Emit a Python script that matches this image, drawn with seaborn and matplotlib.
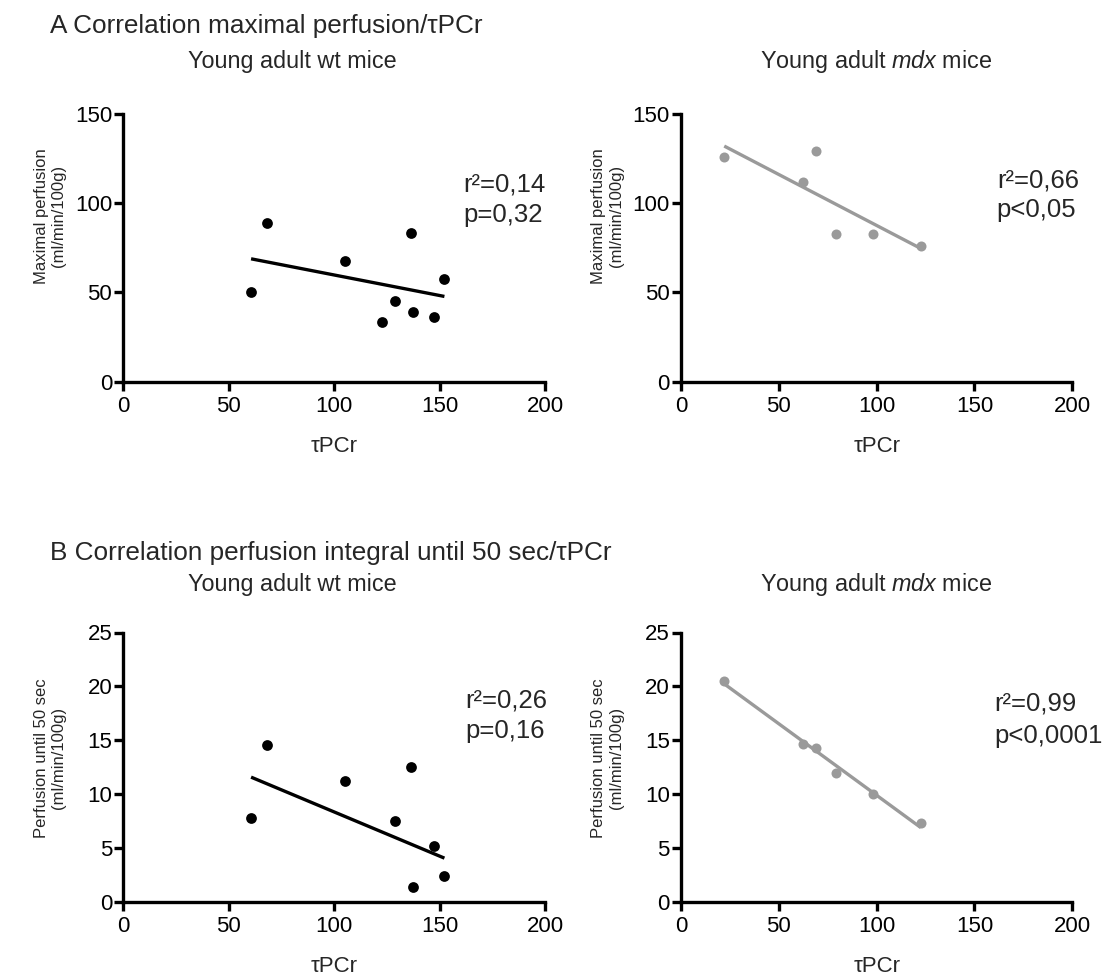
import matplotlib
matplotlib.use("Agg")
import matplotlib.pyplot as plt
import seaborn as sns

# tau PCr of each mouse (same animals in both rows)
wt_tau = [60.6, 68.0, 105.2, 136.5, 152.3, 128.9, 122.6, 137.6, 147.5]
wt_max_perf = [50.3, 88.8, 67.7, 83.5, 57.6, 45.2, 33.3, 39.1, 36.1]
# one wt mouse sits just under the axis (hidden in the figure, still in the fit)
wt_perf50 = [7.8, 14.6, 11.2, 12.55, 2.4, 7.5, -0.5, 1.4, 5.2]

mdx_tau = [22.1, 62.5, 68.9, 79.3, 98.3, 122.6]
mdx_max_perf = [126.0, 111.9, 129.5, 82.6, 82.6, 76.2]
mdx_perf50 = [20.5, 14.7, 14.3, 12.0, 10.0, 7.3]

r2_labels = ["r²=0,14", "r²=0,66", "r²=0,26", "r²=0,99"]
p_labels = ["p=0,32", "p<0,05", "p=0,16", "p<0,0001"]

x_ticks = [0, 50, 100, 150, 200]
y_ticks_top = [0, 50, 100, 150]
y_ticks_bottom = [0, 5, 10, 15, 20, 25]

sns.set_style("ticks")
plt.rcParams["font.family"] = ["Liberation Sans", "DejaVu Sans"]
plt.rcParams["mathtext.fontset"] = "custom"
plt.rcParams["mathtext.rm"] = "Liberation Sans"
plt.rcParams["mathtext.it"] = "Liberation Sans:italic"

W, H = 1104, 977
fig = plt.figure(figsize=(W / 100, H / 100), dpi=100)


def px_ax(left, top, right, bottom):
    return fig.add_axes([left / W, 1 - bottom / H, (right - left) / W, (bottom - top) / H])


ax_tl = px_ax(123.3, 114.0, 545.0, 381.7)
ax_tr = px_ax(681.0, 114.0, 1072.3, 381.7)
ax_bl = px_ax(123.3, 632.5, 545.0, 902.0)
ax_br = px_ax(681.0, 632.5, 1072.3, 902.0)

black = "#000000"
grey = "#9a9a9a"

panels = [
    (ax_tl, wt_tau, wt_max_perf, black, 60, y_ticks_top, "Maximal perfusion\n(ml/min/100g)"),
    (ax_tr, mdx_tau, mdx_max_perf, grey, 52, y_ticks_top, "Maximal perfusion\n(ml/min/100g)"),
    (ax_bl, wt_tau, wt_perf50, black, 60, y_ticks_bottom, "Perfusion until 50 sec\n(ml/min/100g)"),
    (ax_br, mdx_tau, mdx_perf50, grey, 52, y_ticks_bottom, "Perfusion until 50 sec\n(ml/min/100g)"),
]

stat_pos = [
    (0.806, 0.709, 0.597),
    (0.807, 0.724, 0.616),
    (0.810, 0.720, 0.610),
    (0.800, 0.712, 0.590),
]
ylab_y = [0.619, 0.619, 0.534, 0.534]

for i, (ax, xs, ys, col, size, yt, ylab) in enumerate(panels):
    sns.regplot(x=xs, y=ys, ax=ax, ci=None, color=col,
                scatter_kws={"s": size, "linewidths": 0, "alpha": 1, "clip_on": True, "zorder": 3},
                line_kws={"linewidth": 2.4, "color": col, "solid_capstyle": "butt"})
    ax.set_xlim(0, 200)
    ax.set_ylim(0, yt[-1])
    ax.set_xticks(x_ticks)
    ax.set_yticks(yt)
    sns.despine(ax=ax)
    for s in ["left", "bottom"]:
        ax.spines[s].set_linewidth(2.4)
        ax.spines[s].set_color("black")
        ax.spines[s].set_zorder(4)
    ax.tick_params(axis="both", length=6.5, width=2.4, color="black",
                   labelsize=16, labelcolor="black")
    ax.tick_params(axis="x", pad=3.5)
    ax.tick_params(axis="y", pad=1.5)
    ax.set_xlabel("τPCr", fontsize=16, labelpad=14)
    ax.set_ylabel(ylab, fontsize=12, linespacing=1.2)
    ax.yaxis.set_label_coords(-0.135 if i % 2 == 0 else -0.146, ylab_y[i])
    sx, sy1, sy2 = stat_pos[i]
    ax.text(sx, sy1, r2_labels[i], transform=ax.transAxes, fontsize=18.5, va="baseline", ha="left")
    ax.text(sx, sy2, p_labels[i], transform=ax.transAxes, fontsize=18.5, va="baseline", ha="left")

fig.text(50 / W, 1 - 33.3 / H, "A Correlation maximal perfusion/τPCr", fontsize=18.8, va="baseline", ha="left")
fig.text(50 / W, 1 - 560 / H, "B Correlation perfusion integral until 50 sec/τPCr", fontsize=18.8, va="baseline", ha="left")
for yb in [68.3, 591.5]:
    fig.text(292 / W, 1 - yb / H, "Young adult wt mice", fontsize=16.8, va="baseline", ha="center")
    fig.text(876 / W, 1 - yb / H, r"Young adult $\mathit{mdx}$ mice", fontsize=16.8, va="baseline", ha="center")

fig.savefig("out.png", dpi=100)
